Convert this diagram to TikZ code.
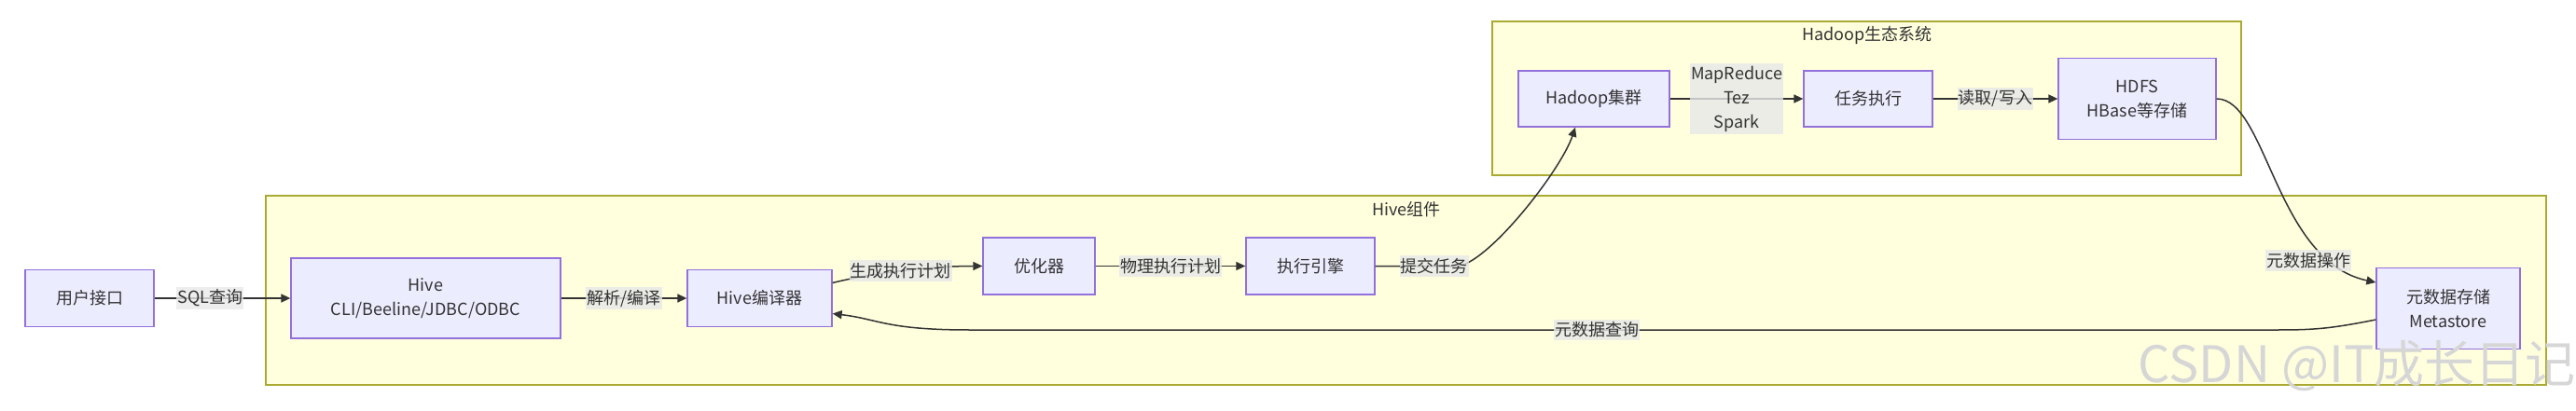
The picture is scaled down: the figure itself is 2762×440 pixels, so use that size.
\documentclass[tikz,border=0pt]{standalone}
\usepackage{fontspec}
\setmainfont{Noto Sans CJK SC}
\usepackage{xcolor}
\usetikzlibrary{arrows.meta,positioning}
\definecolor{nodefill}{HTML}{ECECFF}
\definecolor{nodeline}{HTML}{9370DB}
\definecolor{grpfill}{HTML}{FFFFDE}
\definecolor{grpline}{HTML}{AAAA33}
\definecolor{edgeline}{HTML}{333333}
\definecolor{lblbg}{HTML}{E8E8E8}
\definecolor{txt}{HTML}{333333}
\begin{document}
\begin{tikzpicture}[x=1pt,y=1pt]
\tikzset{
  grp/.style={rectangle,draw=grpline,fill=grpfill,line width=1.5pt},
  gt/.style={font=\fontsize{18}{26}\selectfont,text=txt},
  nb/.style={rectangle,draw=nodeline,fill=nodefill,line width=1.3pt,minimum height=61pt,inner xsep=0pt,align=center,font=\fontsize{18}{26}\selectfont,text=txt},
  ar/.style={-{Triangle[length=10pt,width=9pt]},line width=1.5pt,draw=edgeline},
  el/.style={fill=lblbg,fill opacity=0.8,text opacity=1,inner xsep=1pt,inner ysep=3pt,align=center,font=\fontsize{18}{26}\selectfont,text=txt},
  wm/.style={font=\fontsize{54}{60}\selectfont,text=black!16}
}
\useasboundingbox (0,0) rectangle (2762,440);
% subgraphs
\node[grp,minimum width=2445pt,minimum height=203pt] (hivegrp) at (1507.5,128.5) {};
\node[grp,minimum width=803pt,minimum height=165pt] (hadoopgrp) at (2001.5,334.5) {};
\node[gt] (hivet) at (1508,215) {Hive组件};
\node[gt] (hadoopt) at (2002,402) {Hadoop生态系统};
% hive side
\node[nb,minimum width=138pt] (ui) at (96,120) {用户接口};
\node[nb,minimum width=289pt,minimum height=86pt] (cli) at (456.5,120) {Hive\\CLI/Beeline/JDBC/ODBC};
\node[nb,minimum width=155pt] (hc) at (814.5,120) {Hive编译器};
\node[nb,minimum width=120pt] (opt) at (1114,154.5) {优化器};
\node[nb,minimum width=138pt] (eng) at (1405,154.5) {执行引擎};
\node[nb,minimum width=154pt,minimum height=87pt] (ms) at (2625,109) {元数据存储\\Metastore};
% hadoop side
\node[nb,minimum width=162pt,minimum height=60pt] (hdc) at (1709,334) {Hadoop集群};
\node[nb,minimum width=138pt,minimum height=60pt] (task) at (2003,334) {任务执行};
\node[nb,minimum width=169pt,minimum height=87pt] (hdfs) at (2291.5,334) {HDFS\\HBase等存储};
% edges
\draw[ar] (ui) -- node[el,pos=0.41]{SQL查询} (cli);
\draw[ar] (cli) -- node[el]{解析/编译} (hc);
\draw[ar] ([yshift=16.5pt]hc.east) .. controls +(40,10) and +(-60,0) .. (opt.west) node[el,pos=0.5]{生成执行计划};
\draw[ar] (opt) -- node[el]{物理执行计划} (eng);
\draw[ar] (eng.east) -- ++(90,0) node[el,pos=0.7]{提交任务} .. controls +(35,8) and +(-15,-45) .. ([xshift=-20pt]hdc.south);
\draw[ar] (hdc) -- node[el]{MapReduce\\Tez\\Spark} (task);
\draw[ar] (task) -- node[el]{读取/写入} (hdfs);
\draw[ar] (hdfs.east) .. controls +(54,0) and +(-108,23) .. ([yshift=28pt]ms.west) node[el,pos=0.8,xshift=-18pt,yshift=-6pt]{元数据操作};
\draw[ar] ([yshift=-12pt]ms.west) .. controls +(-50,-10) and +(40,0) .. (2440,86) -- (1040,86) node[el,pos=0.52]{元数据查询} .. controls +(-90,0) and +(50,-6) .. ([yshift=-16.5pt]hc.east);
% watermark
\node[wm] (csdn) at (2527,47) {CSDN @IT成长日记};
\end{tikzpicture}
\end{document}
